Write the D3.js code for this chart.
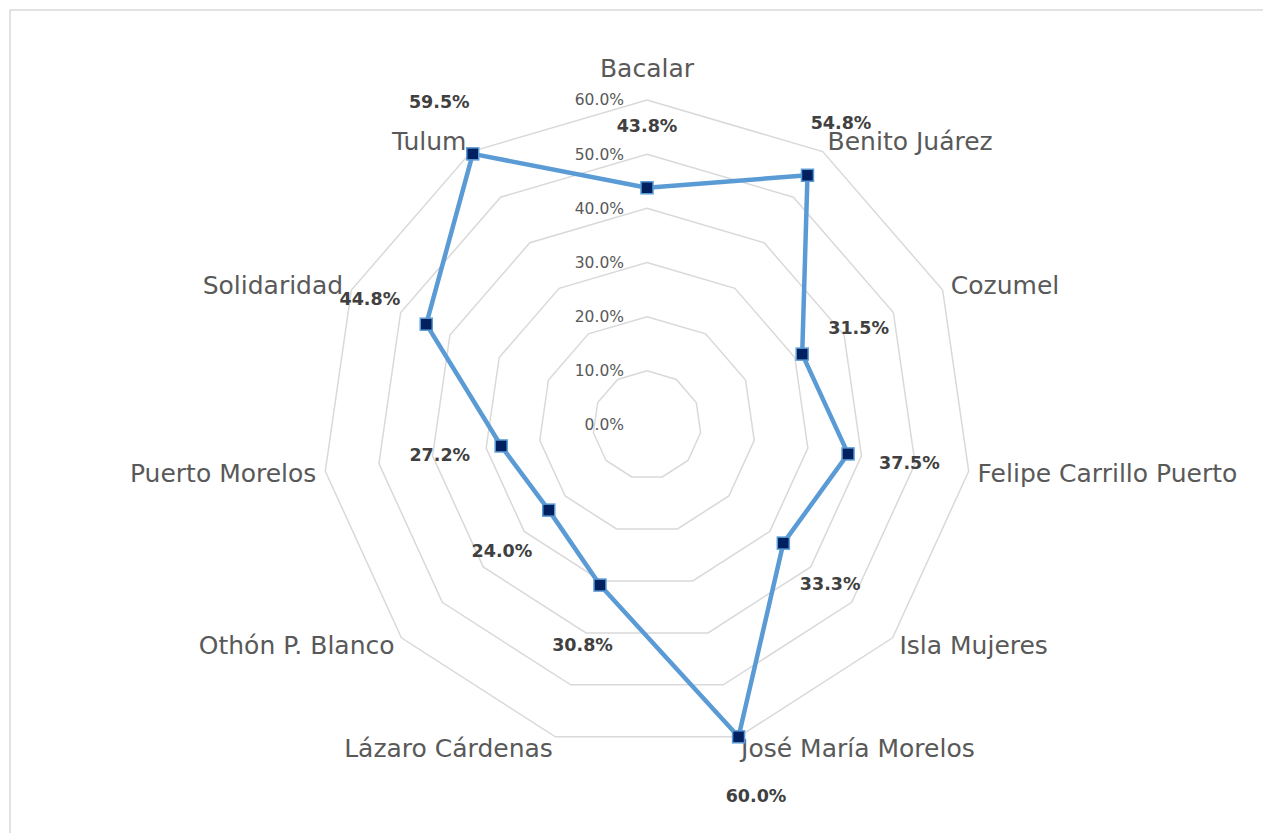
<!DOCTYPE html>
<html>
<head>
<meta charset="utf-8">
<script src="https://cdn.jsdelivr.net/npm/d3@7"></script>
<style>
  html, body { margin: 0; padding: 0; background: #fff; }
  svg { display: block; }
</style>
</head>
<body>
<div id="chart"></div>
<script>
const categories = ["Bacalar", "Benito Juárez", "Cozumel", "Felipe Carrillo Puerto", "Isla Mujeres",
    "José María Morelos", "Lázaro Cárdenas", "Othón P. Blanco", "Puerto Morelos", "Solidaridad", "Tulum"]
const values = [0.438, 0.548, 0.315, 0.375, 0.333, 0.600, 0.308, 0.240, 0.272, 0.448, 0.595]
const ticks = [0, 0.1, 0.2, 0.3, 0.4, 0.5, 0.6]

const width = 1263
const height = 833
const cx = 647
const cy = 425
const outer = 325
const font = "'DejaVu Sans', sans-serif"

const svg = d3.select("#chart").append("svg")
    .attr("width", width)
    .attr("height", height)

// chart frame (only top and left edges visible)
svg.append("path")
    .attr("d", `M10,${height} L10,10 L${width},10`)
    .attr("fill", "none")
    .attr("stroke", "#d9d9d9")
    .attr("stroke-width", 1.5)

const r = d3.scaleLinear().domain([0, 0.6]).range([0, outer])
// n points spread over [0, 2π) -> step 2π/n
const angle = d3.scalePoint()
    .domain(categories)
    .range([0, 2 * Math.PI * (categories.length - 1) / categories.length])

const pos = (cat, v) => {
    const a = angle(cat)
    return [cx + r(v) * Math.sin(a), cy - r(v) * Math.cos(a)]
}

const g = svg.append("g")

// rings
g.append("g").selectAll("polygon")
    .data(ticks.filter(t => t > 0))
    .enter().append("polygon")
    .attr("points", t => categories.map(c => pos(c, t).join(",")).join(" "))
    .attr("fill", "none")
    .attr("stroke", "#d9d9d9")
    .attr("stroke-width", 1.5)

// tick labels
g.append("g").selectAll("text")
    .data(ticks)
    .enter().append("text")
    .attr("x", cx - 23)
    .attr("y", t => cy - r(t))
    .attr("dy", "0.35em")
    .attr("text-anchor", "end")
    .attr("font-family", font)
    .attr("font-size", 15.5)
    .attr("fill", "#595959")
    .text(t => d3.format(".1%")(t))

// category labels
g.append("g").selectAll("text")
    .data(categories)
    .enter().append("text")
    .each(function(c) {
        const a = angle(c)
        const s = Math.sin(a), co = Math.cos(a)
        const [vx, vy] = pos(c, 0.6)
        const el = d3.select(this)
        if (Math.abs(s) < 0.1) {
            el.attr("x", vx).attr("y", vy - 23).attr("text-anchor", "middle")
        } else {
            el.attr("x", vx + s * 9)
                .attr("y", vy - co * 12)
                .attr("dy", "0.35em")
                .attr("text-anchor", s > 0 ? "start" : "end")
        }
    })
    .attr("font-family", font)
    .attr("font-size", 25)
    .attr("fill", "#595959")
    .text(c => c)

// series line
const line = d3.line().curve(d3.curveLinearClosed)
g.append("path")
    .datum(categories.map((c, i) => pos(c, values[i])))
    .attr("d", line)
    .attr("fill", "none")
    .attr("stroke", "#5b9bd5")
    .attr("stroke-width", 4.5)
    .attr("stroke-linejoin", "round")

// markers
const ms = 12
g.append("g").selectAll("rect")
    .data(categories)
    .enter().append("rect")
    .attr("x", (c, i) => pos(c, values[i])[0] - ms / 2)
    .attr("y", (c, i) => pos(c, values[i])[1] - ms / 2)
    .attr("width", ms)
    .attr("height", ms)
    .attr("fill", "#002060")
    .attr("stroke", "#5b9bd5")
    .attr("stroke-width", 1.5)

// data labels, pushed outward along each spoke
const labelGap = 62
g.append("g").selectAll("text")
    .data(categories)
    .enter().append("text")
    .attr("x", (c, i) => pos(c, values[i])[0] + labelGap * Math.sin(angle(c)))
    .attr("y", (c, i) => pos(c, values[i])[1] - labelGap * Math.cos(angle(c)))
    .attr("dy", "0.35em")
    .attr("text-anchor", "middle")
    .attr("font-family", font)
    .attr("font-size", 17.5)
    .attr("font-weight", "bold")
    .attr("fill", "#404040")
    .text((c, i) => d3.format(".1%")(values[i]))
</script>
</body>
</html>
